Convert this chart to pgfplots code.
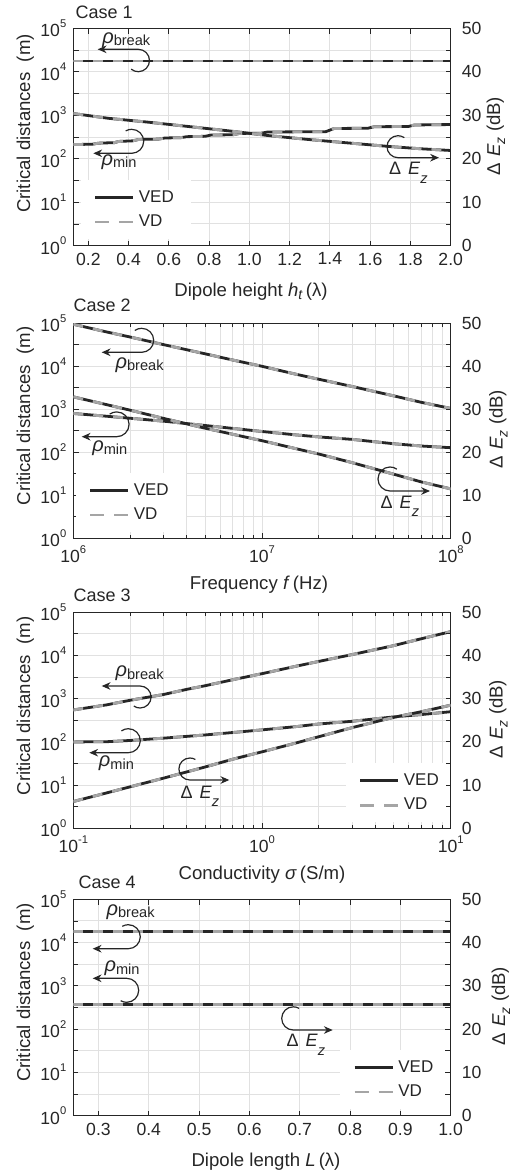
\documentclass[border=0pt]{standalone}
\usepackage{fontspec}
\setmainfont{Liberation Sans}
\usepackage{pgfplots}
\pgfplotsset{compat=1.18}
\usetikzlibrary{arrows.meta}
\definecolor{vdgray}{RGB}{165,165,165}
\definecolor{axgray}{RGB}{38,38,38}
\definecolor{gridgray}{RGB}{225,225,225}

\newcommand\tp[1]{10\raisebox{1.0ex}{\fontsize{5.6}{5.6}\selectfont #1}}
\newcommand\tickfont{\fontsize{8.8}{9.5}\selectfont}
\newcommand\labfont{\fontsize{9.3}{11}\selectfont}
\newcommand\rhol[1]{{\fontsize{10}{11}\selectfont\textit{ρ}}\raisebox{-1.2pt}{\fontsize{7.3}{8}\selectfont #1}}
\newcommand\dez{{\fontsize{9}{10}\selectfont Δ\hspace{3.5pt}\textit{E}}\raisebox{-4.3pt}{\fontsize{7.3}{8}\selectfont\textit{z}}}
\newcommand\dezlab{{Δ\hspace{3pt}\textit{E}}\raisebox{-2.5pt}{\fontsize{7}{8}\selectfont\textit{z}}\ (dB)}

\pgfplotsset{
  ved/.style={axgray, line width=1.4pt},
  vd/.style={vdgray, line width=1.4pt, dash pattern=on 5pt off 5pt},
  mybase/.style={scale only axis, width=188.7pt, anchor=south west,
    tick align=inside, major tick length=2.6pt, minor tick length=1.6pt,
    tick style={axgray, line width=0.45pt},
    axis line style={axgray, line width=0.5pt},
    ticklabel style={font=\tickfont, text=axgray}},
  myleft/.style={mybase, ymin=1, ymax=1e5,
    ytick={1,3.1623,10,31.623,100,316.23,1000,3162.3,10000,31623,100000},
    yticklabels={\tp0,,\tp1,,\tp2,,\tp3,,\tp4,,\tp5},
    ytick pos=left, xtick pos=both,
    xmajorgrids, ymajorgrids,
    grid style={gridgray, line width=0.5pt},
    legend style={draw=none, fill=white, font=\fontsize{8.5}{9.5}\selectfont,
      text=axgray, inner xsep=6.5pt, inner ysep=3pt, row sep=0.8pt,
      anchor=north west, cells={anchor=west}},
    legend image code/.code={\draw[##1] (0pt,0pt) -- (19.2pt,0pt);}},
  myright/.style={mybase, ymin=0, ymax=50, axis x line=none, axis y line*=right,
    ytick={0,5,...,50}, yticklabels={0,,10,,20,,30,,40,,50},
    yticklabel style={xshift=2pt}},
}

\begin{document}
\begin{tikzpicture}
% ---------- Case 1 ----------
\begin{axis}[ymode=log, myleft, height=108.7pt, at={(36.65pt,-122.85pt)},
  xmin=0.125, xmax=2,
  xtick={0.2,0.4,0.6,0.8,1.0,1.2,1.4,1.6,1.8,2.0},
  xticklabels={0.2,0.4,0.6,0.8,1.0,1.2,1.4,1.6,1.8,2.0},
  legend style={at={(0.0185,0.302)}}]
\addlegendimage{ved}\addlegendentry{VED}
\addlegendimage{vd, dash pattern=on 7pt off 5pt}\addlegendentry{VD}
\addplot[ved, forget plot] coordinates {(0.125,17700)(2.0,17700)};
\addplot[vd, forget plot] coordinates {(0.125,17700)(2.0,17700)};
\addplot[ved, forget plot] coordinates {(0.125,212)(0.22,216)(0.25,228)(0.33,235)(0.35,250)(0.42,258)(0.45,278)(0.55,283)(0.58,300)(0.66,306)(0.69,322)(0.78,328)(0.81,352)(0.92,356)(0.95,382)(1.06,388)(1.09,412)(1.38,420)(1.42,495)(1.59,505)(1.62,545)(1.79,552)(1.82,598)(2.0,612)};
\addplot[vd, forget plot] coordinates {(0.125,212)(0.22,216)(0.25,228)(0.33,235)(0.35,250)(0.42,258)(0.45,278)(0.55,283)(0.58,300)(0.66,306)(0.69,322)(0.78,328)(0.81,352)(0.92,356)(0.95,382)(1.06,388)(1.09,412)(1.38,420)(1.42,495)(1.59,505)(1.62,545)(1.79,552)(1.82,598)(2.0,612)};
\end{axis}
\begin{axis}[myright, height=108.7pt, at={(36.65pt,-122.85pt)}, xmin=0.125, xmax=2]
\addplot[ved] coordinates {(0.125,30.4)(0.3,29.3)(0.5,28.4)(0.7,27.4)(0.9,26.4)(1.1,25.3)(1.3,24.4)(1.5,23.6)(1.7,22.8)(1.85,22.3)(2.0,21.9)};
\addplot[vd] coordinates {(0.125,30.4)(0.3,29.3)(0.5,28.4)(0.7,27.4)(0.9,26.4)(1.1,25.3)(1.3,24.4)(1.5,23.6)(1.7,22.8)(1.85,22.3)(2.0,21.9)};
\end{axis}

% ---------- Case 2 ----------
\begin{axis}[xmode=log, ymode=log, myleft, height=107.5pt, at={(36.65pt,-269.15pt)},
  xmin=1e6, xmax=1e8, xtick={1e6,1e7,1e8},
  xticklabels={\tp6,\tp7,\tp8},
  minor xtick={2e6,3e6,4e6,5e6,6e6,7e6,8e6,9e6,2e7,3e7,4e7,5e7,6e7,7e7,8e7,9e7},
  xminorgrids, minor grid style={gridgray, line width=0.5pt},
  legend style={at={(0.005,0.304)}}]
\addlegendimage{ved}\addlegendentry{VED}
\addlegendimage{vd, dash pattern=on 7pt off 5pt}\addlegendentry{VD}
\addplot[ved, forget plot] coordinates {(1e6,95000)(1.5e6,63000)(2e6,48000)(3e6,32000)(5e6,19500)(7e6,14000)(1e7,10000)(1.5e7,6600)(2e7,5000)(3e7,3400)(5e7,2050)(7e7,1450)(1e8,1050)};
\addplot[vd, forget plot] coordinates {(1e6,95000)(1.5e6,63000)(2e6,48000)(3e6,32000)(5e6,19500)(7e6,14000)(1e7,10000)(1.5e7,6600)(2e7,5000)(3e7,3400)(5e7,2050)(7e7,1450)(1e8,1050)};
\addplot[ved, forget plot] coordinates {(1e6,800)(1.5e6,690)(2e6,620)(3e6,530)(4e6,465)(5e6,420)(7e6,360)(1e7,305)(1.5e7,255)(2e7,228)(3e7,200)(5e7,158)(7e7,140)(1e8,128)};
\addplot[vd, forget plot] coordinates {(1e6,800)(1.5e6,690)(2e6,620)(3e6,530)(4e6,465)(5e6,420)(7e6,360)(1e7,305)(1.5e7,255)(2e7,228)(3e7,200)(5e7,158)(7e7,140)(1e8,128)};
\end{axis}
\begin{axis}[xmode=log, myright, height=107.5pt, at={(36.65pt,-269.15pt)}, xmin=1e6, xmax=1e8]
\addplot[ved] coordinates {(1e6,32.9)(2e6,29.8)(3e6,27.9)(5e6,25.6)(1e7,22.7)(2e7,19.6)(3e7,17.6)(5e7,14.9)(7e7,13.1)(1e8,11.5)};
\addplot[vd] coordinates {(1e6,32.9)(2e6,29.8)(3e6,27.9)(5e6,25.6)(1e7,22.7)(2e7,19.6)(3e7,17.6)(5e7,14.9)(7e7,13.1)(1e8,11.5)};
\end{axis}

% ---------- Case 3 ----------
\begin{axis}[xmode=log, ymode=log, myleft, height=108pt, at={(36.65pt,-414.15pt)},
  xmin=0.1, xmax=10, xtick={0.1,1,10},
  xticklabels={\tp{-1},\tp0,\tp1},
  minor xtick={0.2,0.3,0.4,0.5,0.6,0.7,0.8,0.9,2,3,4,5,6,7,8,9},
  xminorgrids, minor grid style={gridgray, line width=0.5pt},
  legend style={at={(0.7207,0.302)}}]
\addlegendimage{ved}\addlegendentry{VED}
\addlegendimage{vd, dash pattern=on 7pt off 5pt}\addlegendentry{VD}
\addplot[ved, forget plot] coordinates {(0.1,550)(0.15,720)(0.2,920)(0.3,1250)(0.4,1650)(0.5,2000)(0.7,2750)(1,3800)(1.5,5600)(2,7300)(3,10500)(5,17000)(7,24500)(10,35700)};
\addplot[vd, forget plot] coordinates {(0.1,550)(0.15,720)(0.2,920)(0.3,1250)(0.4,1650)(0.5,2000)(0.7,2750)(1,3800)(1.5,5600)(2,7300)(3,10500)(5,17000)(7,24500)(10,35700)};
\addplot[ved, forget plot] coordinates {(0.1,100)(0.15,101)(0.2,108)(0.3,122)(0.5,145)(0.7,165)(1,190)(1.5,225)(2,260)(3,300)(5,380)(7,430)(10,500)};
\addplot[vd, forget plot] coordinates {(0.1,100)(0.15,101)(0.2,108)(0.3,122)(0.5,145)(0.7,165)(1,190)(1.5,225)(2,260)(3,300)(5,380)(7,430)(10,500)};
\end{axis}
\begin{axis}[xmode=log, myright, height=108pt, at={(36.65pt,-414.15pt)}, xmin=0.1, xmax=10]
\addplot[ved] coordinates {(0.1,6.2)(0.2,9.6)(0.3,11.6)(0.5,14.2)(0.7,16.0)(1,17.7)(1.5,19.7)(2,21.2)(3,23.3)(5,25.7)(7,27.0)(10,28.5)};
\addplot[vd] coordinates {(0.1,6.2)(0.2,9.6)(0.3,11.6)(0.5,14.2)(0.7,16.0)(1,17.7)(1.5,19.7)(2,21.2)(3,23.3)(5,25.7)(7,27.0)(10,28.5)};
\end{axis}

% ---------- Case 4 ----------
\begin{axis}[ymode=log, myleft, height=108.2pt, at={(36.65pt,-557.85pt)},
  xmin=0.25, xmax=1,
  xtick={0.3,0.4,0.5,0.6,0.7,0.8,0.9,1.0},
  xticklabels={0.3,0.4,0.5,0.6,0.7,0.8,0.9,1.0},
  legend style={at={(0.706,0.3036)}}]
\addlegendimage{ved}\addlegendentry{VED}
\addlegendimage{vd, dash pattern=on 7pt off 5pt}\addlegendentry{VD}
\addplot[ved, forget plot] coordinates {(0.25,18000)(1.0,18000)};
\addplot[vd, forget plot] coordinates {(0.25,18000)(1.0,18000)};
\addplot[ved, forget plot] coordinates {(0.25,375)(1.0,375)};
\addplot[vd, forget plot] coordinates {(0.25,375)(1.0,375)};
\end{axis}
\begin{axis}[myright, height=108.2pt, at={(36.65pt,-557.85pt)}, xmin=0.25, xmax=1]
\addplot[ved] coordinates {(0.25,25.7)(1.0,25.7)};
\addplot[vd] coordinates {(0.25,25.7)(1.0,25.7)};
\end{axis}

% ---------- annotations (image pixel units, y downwards) ----------
\begin{scope}[x=0.5pt, y=-0.5pt, axgray, line width=0.6pt,
  arr/.style={{Stealth[length=4.4pt,width=3.8pt]}-}]
\node[anchor=west, inner sep=0pt, font=\fontsize{9}{10}\selectfont] at (75,12) {Case 1};
\node[anchor=west, inner sep=0pt, font=\fontsize{9}{10}\selectfont] at (73,305) {Case 2};
\node[anchor=west, inner sep=0pt, font=\fontsize{9}{10}\selectfont] at (73,595) {Case 3};
\node[anchor=west, inner sep=0pt, font=\fontsize{9}{10}\selectfont] at (78,882) {Case 4};
\foreach \yy in {123.5, 416, 706, 992.5}{
  \node[rotate=90, anchor=base, inner sep=0pt, font=\labfont] at (30,\yy) {Critical distances~ (m)};
}
\node[rotate=90, anchor=base, inner sep=0pt, font=\labfont] at (500,136) {\dezlab};
\node[rotate=90, anchor=base, inner sep=0pt, font=\labfont] at (502.7,429) {\dezlab};
\node[rotate=90, anchor=base, inner sep=0pt, font=\labfont] at (502.7,719) {\dezlab};
\node[rotate=90, anchor=base, inner sep=0pt, font=\labfont] at (505,1006) {\dezlab};
\node[anchor=base, inner sep=0pt, font=\labfont] at (251,296) {Dipole height \textit{h}\raisebox{-1.5pt}{\fontsize{7}{8}\selectfont\textit{t}}\,(λ)};
\node[anchor=base, inner sep=0pt, font=\labfont] at (259,589) {Frequency \textit{f}\,(Hz)};
\node[anchor=base, inner sep=0pt, font=\labfont] at (262,879) {Conductivity \textit{σ}\,(S/m)};
\node[anchor=base, inner sep=0pt, font=\labfont] at (266,1166) {Dipole length \textit{L}\,(λ)};

\draw[arr] (97.7,49.3) -- ++(20.3pt,0pt) arc[start angle=90, end angle=-130, radius=5.6pt];
\node[anchor=base west, inner sep=0pt] at (101.7,43) {\rhol{break}};
\draw[arr] (93.3,153.3) -- ++(19.2pt,0pt) arc[start angle=-90, end angle=120, radius=6pt];
\node[anchor=base west, inner sep=0pt] at (101,165.5) {\rhol{min}};
\draw[arr] (439,157.7) -- ++(-20.5pt,0pt) arc[start angle=-90, end angle=-305, radius=5.5pt];
\node[anchor=base west, inner sep=0pt] at (388.5,174.5) {\dez};

\draw[arr] (101.7,352.3) -- ++(20pt,0pt) arc[start angle=-90, end angle=125, radius=6pt];
\node[anchor=base west, inner sep=0pt] at (115,368.3) {\rhol{break}};
\draw[arr] (81.7,436.7) -- ++(17.5pt,0pt) arc[start angle=-90, end angle=125, radius=6.2pt];
\node[anchor=base west, inner sep=0pt] at (91.7,451.7) {\rhol{min}};
\draw[arr] (430,491) -- ++(-20pt,0pt) arc[start angle=-90, end angle=-305, radius=6pt];
\node[anchor=base west, inner sep=0pt] at (380,508.3) {\dez};

\draw[arr] (101.7,686) -- ++(19.2pt,0pt) arc[start angle=90, end angle=-125, radius=5.5pt];
\node[anchor=base west, inner sep=0pt] at (115,676.7) {\rhol{break}};
\draw[arr] (89.3,752.7) -- ++(19.5pt,0pt) arc[start angle=-90, end angle=125, radius=6pt];
\node[anchor=base west, inner sep=0pt] at (98.3,766.7) {\rhol{min}};
\draw[arr] (229.3,780) -- ++(-19.7pt,0pt) arc[start angle=-90, end angle=-300, radius=5.5pt];
\node[anchor=base west, inner sep=0pt] at (180,798.3) {\dez};

\draw[arr] (92.7,948.7) -- ++(17.8pt,0pt) arc[start angle=-90, end angle=120, radius=6pt];
\node[anchor=base west, inner sep=0pt] at (106,915) {\rhol{break}};
\draw[arr] (92.7,978.3) -- ++(17pt,0pt) arc[start angle=90, end angle=-120, radius=6pt];
\node[anchor=base west, inner sep=0pt] at (104,971.7) {\rhol{min}};
\draw[arr] (332.7,1030) -- ++(-19.7pt,0pt) arc[start angle=-90, end angle=-300, radius=5.8pt];
\node[anchor=base west, inner sep=0pt] at (286,1046.7) {\dez};
\end{scope}

\pgfresetboundingbox
\path[use as bounding box] (0pt,0pt) rectangle (265.5pt,-586.5pt);
\end{tikzpicture}
\end{document}
